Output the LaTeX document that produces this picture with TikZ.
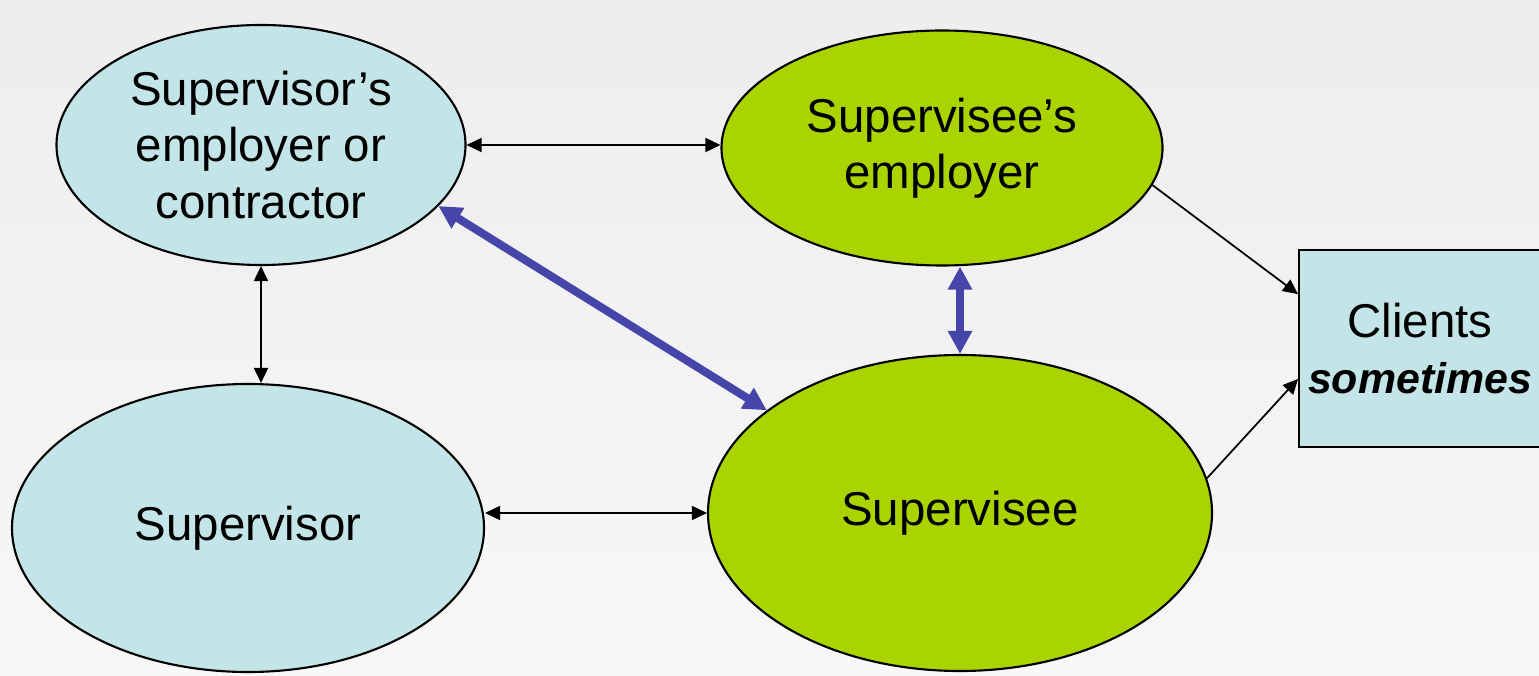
\documentclass[tikz,border=0pt]{standalone}
\usepackage{fontspec}
\setmainfont{Liberation Sans}
\usetikzlibrary{shapes.geometric}
\usetikzlibrary{arrows.meta}

\definecolor{paleblue}{RGB}{196,229,232}
\definecolor{limegreen}{RGB}{170,212,0}
\definecolor{linkblue}{RGB}{70,70,170}

\begin{document}
\begin{tikzpicture}[
  party/.style={ellipse,draw=black,line width=0.6pt,inner sep=0pt,align=center,
    font=\fontsize{13.5}{16}\selectfont},
  thinlink/.style={line width=0.5pt,{Triangle[length=0.15cm,width=0.14cm]}-{Triangle[length=0.15cm,width=0.14cm]}},
  thinto/.style={line width=0.5pt,-{Triangle[length=0.15cm,width=0.14cm]}},
  boldlink/.style={draw=linkblue,line width=2.3pt,
    {Triangle[length=0.23cm,width=0.23cm]}-{Triangle[length=0.23cm,width=0.23cm]}}]
\shade[top color=black!7,bottom color=black!3] (0,0) rectangle (15.39,6.75);
\useasboundingbox (0,0) rectangle (15.39,6.75);

% the four parties
\node[party,fill=paleblue,minimum width=4.09cm,minimum height=2.40cm] (semp) at (2.61,5.30)
  {Supervisor's\\employer or\\contractor};
\node[party,fill=limegreen,minimum width=4.41cm,minimum height=2.35cm] (eemp) at (9.42,5.27)
  {Supervisee's\\employer};
\node[party,fill=paleblue,minimum width=4.72cm,minimum height=2.88cm] (sor) at (2.48,1.47)
  {Supervisor};
\node[party,fill=limegreen,minimum width=5.04cm,minimum height=3.16cm] (see) at (9.60,1.62)
  {Supervisee};
\node[rectangle,draw=black,line width=0.6pt,fill=paleblue,inner sep=0pt,minimum width=2.42cm,
  minimum height=1.97cm,align=center,font=\fontsize{13.5}{16}\selectfont,anchor=west] (cli) at (12.98,3.265)
  {Clients\\{\fontsize{12.2}{16}\selectfont\textbf{\textit{sometimes}}}};

% links
\draw[thinlink] (semp.east) -- (semp.east -| eemp.west);
\draw[thinlink] (semp.south) -- (semp.south |- sor.north);
\draw[thinlink] (sor.east |- see.west) -- (see.west);
\draw[boldlink] (see.north |- eemp.south) -- (see.north);
\draw[boldlink] (semp.-19) -- (see.152);
\draw[thinto] (eemp.-10) -- (cli.156);
\draw[thinto] (see.8) -- (cli.194);
\end{tikzpicture}
\end{document}
